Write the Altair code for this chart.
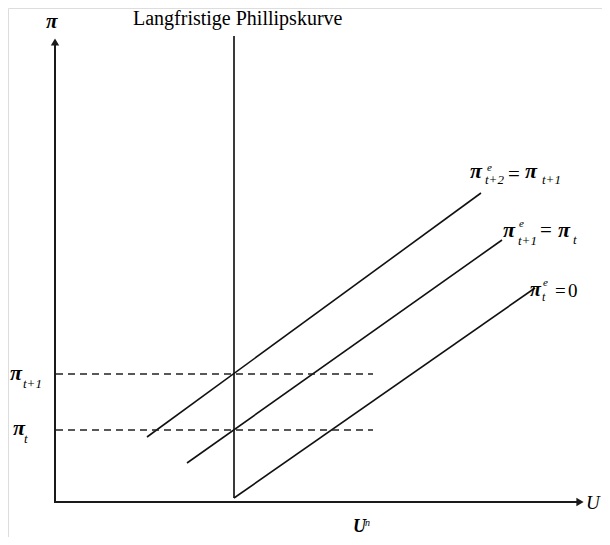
import altair as alt
import pandas as pd

# ---------------- data (diagram units) ----------------
AXIS_X_MAX = 530     # tip of the U axis
AXIS_Y_MAX = 465     # tip of the pi axis
U_N = 179            # natural rate of unemployment
PI_T = 72            # inflation in t
PI_T1 = 128          # inflation in t+1
LRPC_Y = [4, 466]    # vertical extent of the long-run Phillips curve

curve_names = ["pi_e_t2", "pi_e_t1", "pi_e_t"]
curve_x0 = [92, 132, 179]
curve_y0 = [65, 39, 4]
curve_x1 = [426, 447, 480]
curve_y1 = [309, 262, 214]

dash_levels = [PI_T1, PI_T]
dash_x_end = 318

# labels: text, x, y, style (bi = bold italic, i = italic, r = regular), font size
label_text = ["π", "Langfristige Phillipskurve",
              "π", "t+1", "π", "t",
              "π", "e", "t+2", "=", "π", "t+1",
              "π", "e", "t+1", "=", "π", "t",
              "π", "e", "t", "=", "0",
              "U", "U", "n"]
label_x = [-9, 78,
           -45, -32, -42, -31,
           415, 432, 430, 453, 470, 487,
           448, 464, 463, 485, 503, 518,
           475, 488, 487, 500, 513,
           531, 298, 310]
label_y = [474, 477,
           122, 114, 67, 59,
           324, 331, 318, 321, 324, 318,
           265, 275, 257, 265, 265, 258,
           206, 216, 201, 205, 205,
           -7, -30, -24]
label_style = ["bi", "r",
               "bi", "i", "bi", "i",
               "bi", "i", "i", "r", "bi", "i",
               "bi", "i", "i", "r", "bi", "i",
               "bi", "i", "i", "r", "r",
               "i", "bi", "i"]
label_size = [21, 20,
              22, 13, 22, 13,
              22, 11, 13, 21, 22, 13,
              22, 11, 13, 21, 22, 13,
              20, 11, 12, 19, 19,
              19, 18, 10]

# ---------------- tables ----------------
XD = [-47, 547]
YD = [-35, 494]
xs = alt.Scale(domain=XD, nice=False, zero=False)
ys = alt.Scale(domain=YD, nice=False, zero=False)

axes_df = pd.DataFrame({
    "x": [0, 0], "x2": [0, AXIS_X_MAX - 7],
    "y": [-1, 0], "y2": [AXIS_Y_MAX - 7, 0],
})
arrow_df = pd.DataFrame({
    "x": [0, AXIS_X_MAX - 5], "y": [AXIS_Y_MAX - 5, 0],
    "shape": ["triangle-up", "triangle-right"],
})
lrpc_df = pd.DataFrame({"x": [U_N], "y": [LRPC_Y[0]], "y2": [LRPC_Y[1]]})
curves_df = pd.DataFrame({"name": curve_names, "x": curve_x0, "y": curve_y0,
                          "x2": curve_x1, "y2": curve_y1})
dash_df = pd.DataFrame({"y": dash_levels, "x": [1, 1], "x2": [dash_x_end] * 2})
labels_df = pd.DataFrame({"text": label_text, "x": label_x, "y": label_y,
                          "style": label_style, "size": label_size})

FONT = "Liberation Serif, Times New Roman, DejaVu Serif, serif"

axes = alt.Chart(axes_df).mark_rule(color="#1a1a1a", strokeWidth=2).encode(
    x=alt.X("x:Q", scale=xs, axis=None), x2="x2:Q",
    y=alt.Y("y:Q", scale=ys, axis=None), y2="y2:Q")

arrows = alt.Chart(arrow_df).mark_point(filled=True, color="#1a1a1a", size=70, opacity=1).encode(
    x=alt.X("x:Q", scale=xs, axis=None),
    y=alt.Y("y:Q", scale=ys, axis=None),
    shape=alt.Shape("shape:N", scale=None))

lrpc = alt.Chart(lrpc_df).mark_rule(color="#3a3a3a", strokeWidth=2).encode(
    x=alt.X("x:Q", scale=xs, axis=None),
    y=alt.Y("y:Q", scale=ys, axis=None), y2="y2:Q")

curves = alt.Chart(curves_df).mark_rule(color="#111111", strokeWidth=1.6).encode(
    x=alt.X("x:Q", scale=xs, axis=None), x2="x2:Q",
    y=alt.Y("y:Q", scale=ys, axis=None), y2="y2:Q")

dashes = alt.Chart(dash_df).mark_rule(color="#222222", strokeWidth=1.5, strokeDash=[7, 5]).encode(
    x=alt.X("x:Q", scale=xs, axis=None), x2="x2:Q",
    y=alt.Y("y:Q", scale=ys, axis=None))


def text_layer(style, weight, fstyle):
    return alt.Chart(labels_df).transform_filter(
        alt.datum.style == style
    ).mark_text(align="left", baseline="alphabetic", font=FONT,
                fontWeight=weight, fontStyle=fstyle, color="#000000").encode(
        x=alt.X("x:Q", scale=xs, axis=None),
        y=alt.Y("y:Q", scale=ys, axis=None),
        text="text:N",
        size=alt.Size("size:Q", scale=None, legend=None))


texts = (text_layer("bi", "bold", "italic")
         + text_layer("i", "normal", "italic")
         + text_layer("r", "normal", "normal"))

chart = alt.layer(axes, arrows, lrpc, curves, dashes, texts).properties(
    width=594, height=529,
    autosize=alt.AutoSizeParams(type="none"),
    padding=0,
).configure_view(stroke=None).configure(background="white")

chart.save("out.html", embed_options={"renderer": "svg", "actions": False})
